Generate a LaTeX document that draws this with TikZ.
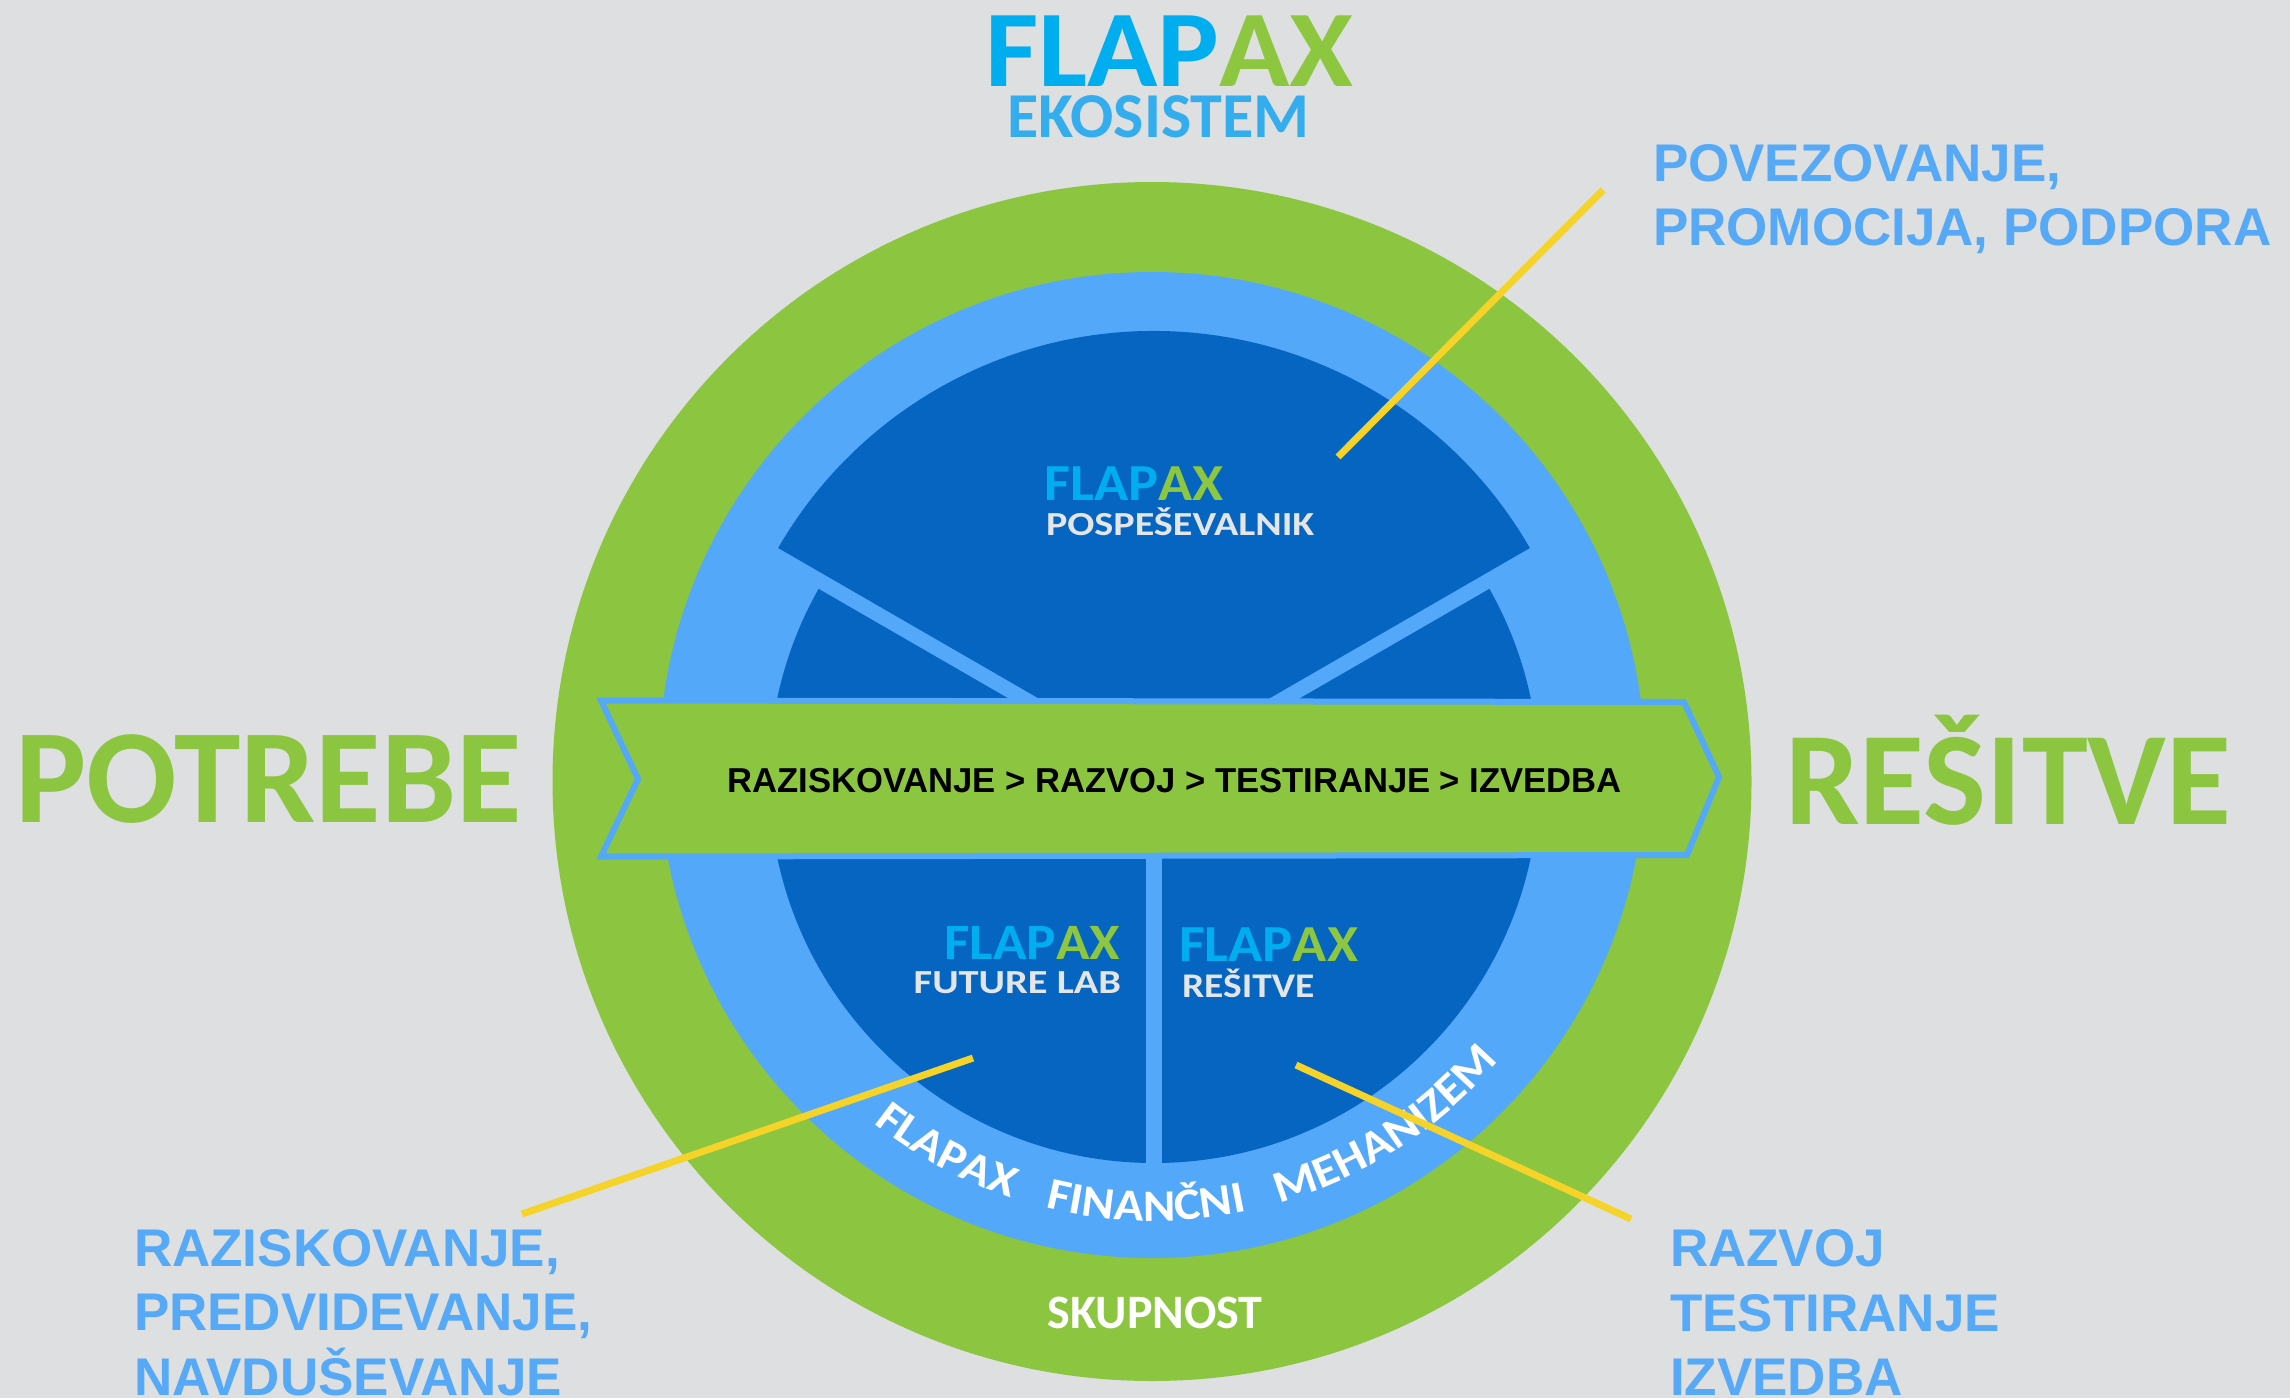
\documentclass[tikz,border=0pt]{standalone}
\usepackage{fontspec}
\usepackage{graphicx}
\usetikzlibrary{decorations.text,calc}
\newfontfamily\calb{Carlito Bold}
\newfontfamily\calbs{Carlito Bold}[FakeStretch=1.1]
\newfontfamily\arb{Liberation Sans Bold}
\definecolor{bgc}{HTML}{DEDFE0}
\definecolor{ringg}{HTML}{8CC540}
\definecolor{ringb}{HTML}{53A8F9}
\definecolor{darkb}{HTML}{0565C0}
\definecolor{logoc}{HTML}{00AEEF}
\definecolor{logog}{HTML}{8DC63F}
\definecolor{paleg}{HTML}{E4E5E7}
\definecolor{txtb}{HTML}{55A9F7}
\definecolor{ekob}{HTML}{33ADEE}
\definecolor{yel}{HTML}{F5D328}
\newcommand\flapaxlogo[2]{\scalebox{#2}[1]{\calb\fontsize{#1}{#1}\selectfont\textcolor{logoc}{FLAP}\textcolor{logog}{AX}}}
\newcommand\palelabel[3]{\scalebox{#2}[1]{\calb\fontsize{#1}{#1}\selectfont\textcolor{paleg}{#3}}}
\tikzset{
  txt/.style={inner sep=0pt, outer sep=0pt},
  sidetxt/.style={txt, anchor=base west, text=txtb, align=left},
  yline/.style={draw=yel, line width=7pt, line cap=butt},
  ringtext/.style={decorate, decoration={text along path, text align=center, text={|\calbs\fontsize{45}{45}\selectfont\color{white}|#1}}}
}
\begin{document}
\begin{tikzpicture}[x=1pt,y=1pt]
\useasboundingbox (0,0) rectangle (2290,-1398);
\fill[bgc] (0,0) rectangle (2290,-1398);

% rings
\fill[ringg] (1152,-781.5) circle[radius=599.5];
\fill[ringb] (1152,-765) circle[radius=493];
% inner dark circle
\fill[darkb] (1154,-778) circle[radius=385];
% top sector with light blue gap
\coordinate (S) at (1154,-765);
\filldraw[ringb, line width=30pt, line join=miter] (S) -- ++(30:434) arc[start angle=30, end angle=150, radius=434] -- cycle;
\fill[darkb] (S) -- ++(30:434) arc[start angle=30, end angle=150, radius=434] -- cycle;
% vertical gap
\coordinate (g1) at (1154,-840);
\coordinate (g2) at (1154,-1175);
\draw[ringb, line width=16pt] (g1) -- (g2);

% banner
\filldraw[fill=ringg, draw=ringb, line width=6pt, line join=miter]
  (601,-700.5) -- (1684,-702) -- (1719,-777) -- (1687,-855) -- (601,-856.5) -- (638,-779) -- cycle;
\node[txt, anchor=base] (banner) at (1174.5,-792) {\arb\fontsize{34.6}{34.6}\selectfont RAZISKOVANJE > RAZVOJ > TESTIRANJE > IZVEDBA};

% title
\node[txt, anchor=base west] (title) at (985,-86) {\flapaxlogo{109}{1.065}};
\node[txt, anchor=base west, text=ekob] (eko) at (1007,-137) {\calb\fontsize{64}{64}\selectfont EKOSISTEM};

% big side words
\node[txt, anchor=base west, text=ringg] (potrebe) at (15,-822) {\calb\fontsize{134}{134}\selectfont POTREBE};
\node[txt, anchor=base west, text=ringg] (resitve) at (1785,-824) {\calb\fontsize{133}{133}\selectfont REŠITVE};

% sector labels
\node[txt, anchor=base west] (pl1) at (1044.5,-500.7) {\flapaxlogo{52}{1.085}};
\node[txt, anchor=base west] (pl2) at (1046,-535) {\palelabel{33.7}{1.19}{POSPEŠEVALNIK}};
\node[txt, anchor=base east] (fl1) at (1120,-959.3) {\flapaxlogo{51}{1.085}};
\node[txt, anchor=base east] (fl2) at (1121,-993.3) {\palelabel{33.7}{1.2}{FUTURE LAB}};
\node[txt, anchor=base west] (rl1) at (1179,-961.7) {\flapaxlogo{52}{1.085}};
\node[txt, anchor=base west] (rl2) at (1182,-997.3) {\palelabel{34.6}{1.14}{REŠITVE}};

% ring texts
\coordinate (RC) at (1154,-770);
\path[ringtext={FLAPAX}] ($(RC)+(216.5:451)$) arc[start angle=216.5, end angle=266.5, radius=451];
\path[ringtext={FINANČNI}] ($(RC)+(244:451)$) arc[start angle=244, end angle=294, radius=451];
\path[ringtext={MEHANIZEM}] ($(RC)+(273:451)$) arc[start angle=273, end angle=333, radius=451];
\node[txt, anchor=base, text=white] (skup) at (1155,-1328.3) {\calb\fontsize{48}{48}\selectfont SKUPNOST};

% yellow pointer lines
\coordinate (ya1) at (1603,-190);
\coordinate (ya2) at (1338,-457);
\coordinate (yb1) at (973,-1058);
\coordinate (yb2) at (522,-1214);
\coordinate (yc1) at (1296,-1065);
\coordinate (yc2) at (1631,-1219);
\draw[yline] (ya1) -- (ya2);
\draw[yline] (yb1) -- (yb2);
\draw[yline] (yc1) -- (yc2);

% side texts
\node[sidetxt] (tr1) at (1653,-181.2) {\arb\fontsize{53}{53}\selectfont POVEZOVANJE,};
\node[sidetxt] (tr2) at (1653,-245.5) {\arb\fontsize{53}{53}\selectfont PROMOCIJA, PODPORA};
\node[sidetxt] (bl1) at (134,-1266.7) {\arb\fontsize{53}{53}\selectfont RAZISKOVANJE,};
\node[sidetxt] (bl2) at (134,-1330.7) {\arb\fontsize{53}{53}\selectfont PREDVIDEVANJE,};
\node[sidetxt] (bl3) at (134,-1395) {\arb\fontsize{53}{53}\selectfont NAVDUŠEVANJE};
\node[sidetxt] (br1) at (1670,-1266.7) {\arb\fontsize{53}{53}\selectfont RAZVOJ};
\node[sidetxt] (br2) at (1670,-1331) {\arb\fontsize{53}{53}\selectfont TESTIRANJE};
\node[sidetxt] (br3) at (1670,-1395) {\arb\fontsize{53}{53}\selectfont IZVEDBA};
\end{tikzpicture}
\end{document}
